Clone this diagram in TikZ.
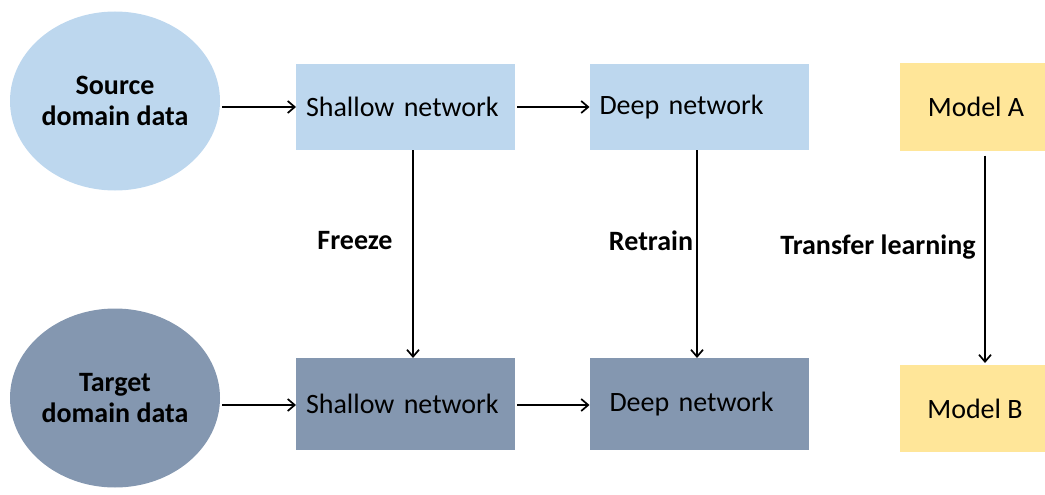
\documentclass[tikz,border=0pt]{standalone}
\usepackage{fontspec}
\setmainfont{Carlito}
\usetikzlibrary{arrows.meta,shapes.geometric,calc}
\definecolor{srcblue}{HTML}{BDD7EE}
\definecolor{tgtslate}{HTML}{8497B0}
\definecolor{modelyellow}{HTML}{FFE699}
\begin{document}
\begin{tikzpicture}[x=1pt,y=-1pt,
  every node/.style={inner sep=0pt,outer sep=0pt},
  txt/.style={font=\fontsize{28}{32}\selectfont},
  btxt/.style={font=\fontsize{28}{31}\selectfont\bfseries},
  databubble/.style={ellipse,minimum width=210pt,minimum height=179pt,align=center,btxt},
  netbox/.style={rectangle,minimum width=219pt,text width=199pt,align=left,txt},
  modelbox/.style={rectangle,fill=modelyellow,minimum width=145pt,minimum height=87pt,txt},
  flow/.style={line width=1.7pt,-{Straight Barb[length=7pt,width=12pt,line width=1.7pt]}}
]
\useasboundingbox (0,0) rectangle (1045,495);

% data sources
\node[databubble,fill=srcblue] (src) at (115,101) {Source\\domain data};
\node[databubble,fill=tgtslate] (tgt) at (115,398) {Target\\domain data};

% source-domain networks
\node[netbox,fill=srcblue,minimum height=86pt] (sh1) at (405.5,107) {Shallow network};
\node[netbox,fill=srcblue,minimum height=86pt] (dp1) at (699,107) {Deep network};

% target-domain networks
\node[netbox,fill=tgtslate,minimum height=92pt] (sh2) at (405.5,404) {Shallow network};
\node[netbox,fill=tgtslate,minimum height=92pt] (dp2) at (699,404) {\hspace*{10pt}Deep network};

% models
\node[modelbox] (ma) at (972,107) {\hspace*{8pt}Model A};
\node[modelbox] (mb) at (972,408.5) {\hspace*{6pt}Model B};

% horizontal flow
\coordinate (s1) at ([xshift=2pt]src.east |- 0,107);
\draw[flow] (s1) -- (sh1.west);
\draw[flow] ([xshift=2pt]sh1.east) -- (dp1.west);
\coordinate (s2) at ([xshift=2pt]tgt.east |- 0,405);
\draw[flow] (s2) -- (sh2.west |- s2);
\coordinate (s3) at ([xshift=2pt]sh2.east |- 0,405);
\draw[flow] (s3) -- (dp2.west |- s3);

% vertical transfer arrows
\draw[flow] ([xshift=7.5pt]sh1.south) -- ([xshift=7.5pt]sh2.north);
\draw[flow] ([xshift=-2pt]dp1.south) -- ([xshift=-2pt]dp2.north);
\draw[flow,shorten <=5pt,shorten >=2pt] ([xshift=13pt]ma.south) -- ([xshift=13pt]mb.north);

% arrow labels
\node[btxt] (fz) at (355,241) {Freeze};
\node[btxt] (rt) at (651,241) {Retrain};
\node[btxt] (tl) at (878,247) {Transfer learning};
\end{tikzpicture}
\end{document}
